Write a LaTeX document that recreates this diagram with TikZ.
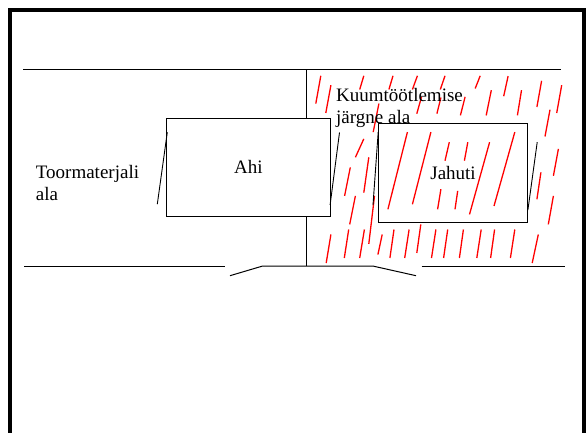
\documentclass[tikz,border=0pt]{standalone}
\usepackage{fontspec}
\setmainfont{Liberation Serif}
\begin{document}
\begin{tikzpicture}[x=1pt,y=-1pt,
  wall/.style={line width=1pt},
  hatch/.style={red,line width=1.3pt},
  doorline/.style={line width=0.9pt},
  room/.style={draw,line width=1pt,inner sep=0pt,font=\fontsize{19}{22}\selectfont},
  lbl/.style={inner sep=0pt,anchor=base west,font=\fontsize{19}{22}\selectfont}]
\useasboundingbox (0,0) rectangle (586,433);
\fill[white] (0,0) rectangle (586,433);
% outer frame
\draw[line width=4pt] (10,445) -- (10,10) -- (584,10) -- (584,445);
% red hatching of the post heat-treatment area
\foreach \a/\b/\c/\d in {
  320.8/75.8/315.8/103.6, 363.8/75.8/359.7/89.5, 393.0/75.8/388.9/89.5,
  417.4/75.8/412.4/89.5, 445.0/75.8/440.3/89.5, 480.2/75.8/475.2/88.5,
  508.1/76.1/503.7/96.2, 541.6/80.8/536.9/107.0, 561.7/85.2/556.7/113.0,
  330.9/85.2/325.8/113.0, 491.3/90.2/486.2/115.4, 521.5/90.2/517.4/115.4,
  421.5/96.9/416.8/113.7, 440.9/97.6/436.9/113.7, 465.1/96.9/460.4/115.4,
  378.9/103.6/373.2/132.1, 550.0/109.7/545.0/136.5,
  363.8/138.9/355.4/157.3, 368.8/157.3/363.8/192.6, 350.3/167.4/344.6/195.9,
  355.4/195.9/349.7/224.4, 374.5/195.9/368.8/243.9, 407.4/132.1/387.9/209.3,
  430.9/132.1/412.4/204.3, 449.3/142.2/445.0/160.7, 467.8/142.2/464.4/160.7,
  489.6/142.2/469.5/214.4, 514.8/132.1/494.0/206.0, 457.7/190.9/455.0/209.3,
  440.9/189.2/437.6/209.3, 558.4/148.9/553.4/175.8, 540.9/172.4/536.9/199.3,
  553.4/195.9/548.3/224.4,
  330.9/234.5/326.2/263.0, 348.7/229.5/344.3/258.0, 364.4/229.5/359.7/258.0,
  382.2/234.5/377.9/254.6, 394.0/229.5/389.9/258.0, 409.1/229.5/404.7/258.0,
  420.8/224.4/416.8/253.0, 435.9/229.5/431.5/258.0, 447.7/229.5/443.6/258.0,
  463.4/229.5/459.4/258.0, 481.2/229.5/476.8/258.0, 494.6/229.5/490.6/258.0,
  514.8/229.5/510.4/258.0, 538.3/234.5/532.2/263.0}
  \draw[hatch] (\a,\b) -- (\c,\d);
% walls
\coordinate (tl) at (23,70);
\coordinate (tr) at (561,70);
\draw[wall] (tl) -- (tr);
\coordinate (dt) at (306,70);
\coordinate (db) at (306,266);
\draw[wall] (dt) -- (db);
\coordinate (b1) at (24,266);
\coordinate (b2) at (225,266);
\coordinate (g1) at (230,275.7);
\coordinate (g2) at (262.7,266);
\coordinate (g3) at (372.7,266);
\coordinate (g4) at (416,275.7);
\coordinate (b3) at (421.7,266);
\coordinate (b4) at (565,266);
\draw[wall] (b1) -- (b2);
\draw[wall] (g1) -- (g2) -- (g3) -- (g4);
\draw[wall] (b3) -- (b4);
% rooms
\node[room,fill=white,minimum width=163.3pt,minimum height=97.7pt] (ahi) at (248.35,167.15) {Ahi};
\node[room,minimum width=149.7pt,minimum height=98.6pt] (jahuti) at (453.05,172.7) {Jahuti};
% doors
\coordinate (d1a) at (167.3,132.2); \coordinate (d1b) at (157.3,204.2);
\coordinate (d2a) at (339.5,132.5); \coordinate (d2b) at (330.1,205);
\coordinate (d3a) at (378.2,132);   \coordinate (d3b) at (373,205);
\coordinate (d4a) at (537.2,142.2); \coordinate (d4b) at (527.9,210);
\draw[doorline] (d1a) -- (d1b);
\draw[doorline] (d2a) -- (d2b);
\draw[doorline] (d3a) -- (d3b);
\draw[doorline] (d4a) -- (d4b);
% labels
\node[lbl] (toor1) at (35.7,178.3) {Toormaterjali};
\node[lbl] (toor2) at (35.7,200.7) {ala};
\node[lbl] (kuum1) at (336,101.7) {Kuumtöötlemise};
\node[lbl] (kuum2) at (336,123.3) {järgne ala};
\end{tikzpicture}
\end{document}
